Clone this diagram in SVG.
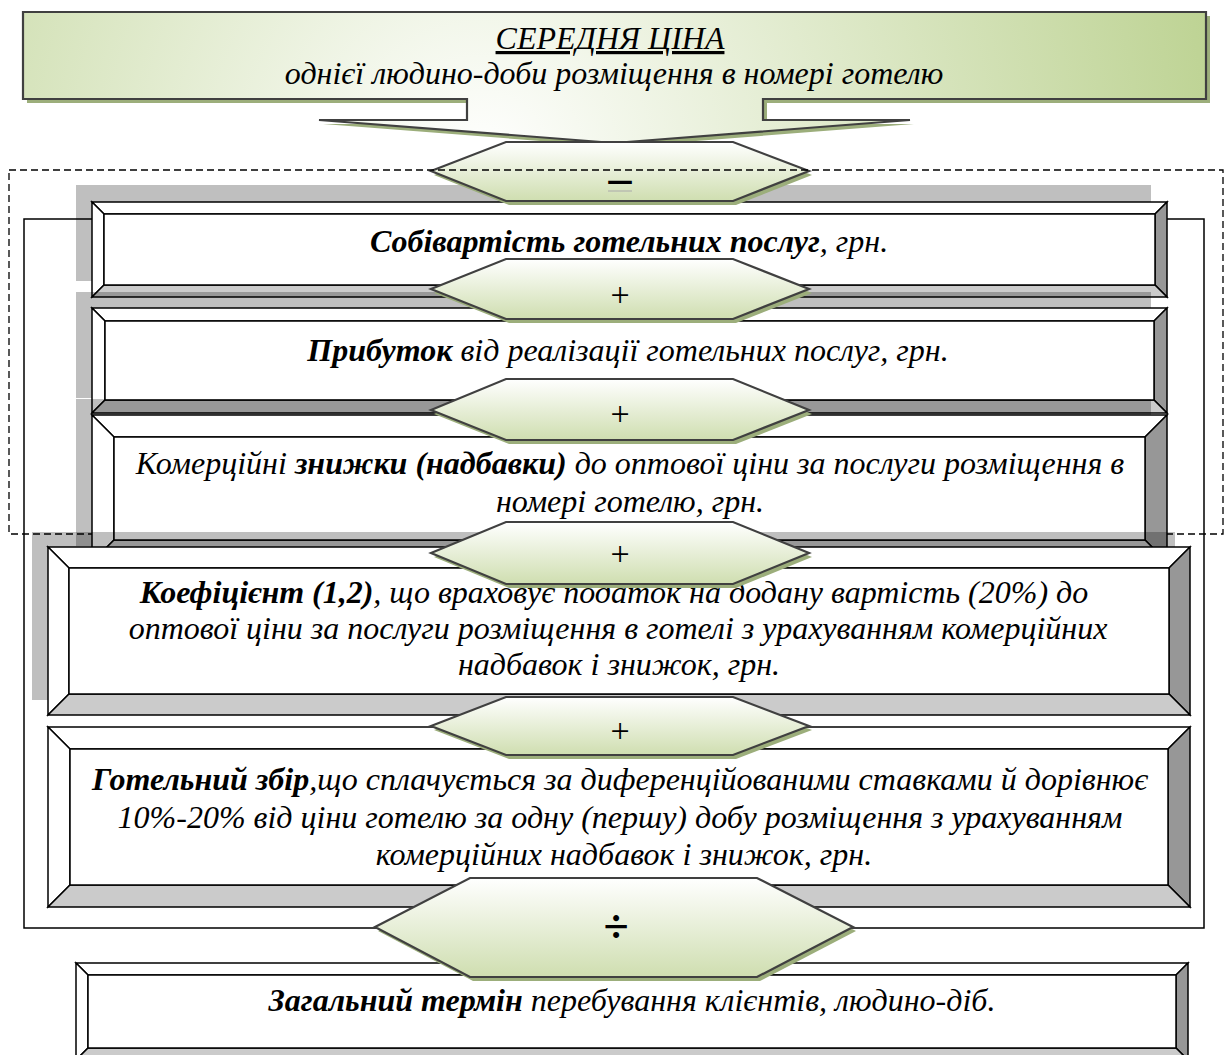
<svg xmlns="http://www.w3.org/2000/svg" width="1225" height="1055" viewBox="0 0 1225 1055">
<defs>
<radialGradient id="gCall" gradientUnits="userSpaceOnUse" cx="480" cy="160" r="760">
<stop offset="0" stop-color="#ffffff"/><stop offset="1" stop-color="#bcd291"/>
</radialGradient>
<linearGradient id="gHex" x1="0" y1="0" x2="0" y2="1">
<stop offset="0" stop-color="#ffffff"/><stop offset="1" stop-color="#cfdeb0"/>
</linearGradient>
<style>
.t{font-family:'Times New Roman',serif;font-style:italic;font-size:32px;fill:#000;text-anchor:middle}
.b{font-weight:bold}
.sh{fill:#000;fill-opacity:0.25}
.bv polygon,.bv rect{stroke:#000;stroke-width:1.5;stroke-linejoin:miter}
.w{fill:#fff}
.dk{fill:#979797}
.lt{fill:#cbcbcb}
.hex{fill:url(#gHex);stroke:#404040;stroke-width:2.2;stroke-linejoin:miter}
.hsh{fill:#9cae7b}
.op{font-family:'Times New Roman',serif;font-size:34px;text-anchor:middle;fill:#000}
</style>
</defs>
<rect width="1225" height="1055" fill="#fff"/>

<g id="title">
<polygon class="hsh" transform="translate(4,4)" points="23,12 1206,12 1206,99 763,99 763,120 910,120 614,143 319,120 467,120 467,99 23,99"/>
<polygon fill="url(#gCall)" stroke="#404040" stroke-width="2.2" points="23,12 1206,12 1206,99 763,99 763,120 910,120 614,143 319,120 467,120 467,99 23,99"/>
<text class="t" x="610" y="49" text-decoration="underline">СЕРЕДНЯ ЦІНА</text>
<text class="t" x="614" y="84">однієї людино-доби розміщення в номері готелю</text>
</g>

<g id="box1" class="bv">
<rect class="sh" x="76" y="185" width="1075" height="96" style="stroke:none"/>
<polygon class="w" points="92,202 1167,202 1155,214 104,214"/>
<polygon class="w" points="92,202 104,214 104,285 92,297"/>
<polygon class="dk" points="1167,202 1167,297 1155,285 1155,214"/>
<polygon class="lt" points="92,297 104,285 1155,285 1167,297"/>
<rect class="w" x="104" y="214" width="1051" height="71"/>
<text class="t" x="629" y="252"><tspan class="b">Собівартість готельних послуг</tspan>, грн.</text>
</g>

<g id="op-minus">
<polygon class="hsh" transform="translate(3,4)" points="431,171 506,142 733,142 809,171 733,201 506,201"/>
<polygon class="hex" points="431,171 506,142 733,142 809,171 733,201 506,201"/>
<text class="op b" x="620" y="193" style="font-size:46px">–</text>
<line x1="608" y1="191" x2="632" y2="191" stroke="#aaa" stroke-width="1"/>
</g>

<g id="connectors" fill="none" stroke="#000">
<rect x="9" y="170" width="1214" height="364" stroke-dasharray="7 4" stroke-width="1.3"/>
<path d="M92,219 H24 V928 H1204 V219 H1167" stroke-width="1.5"/>
</g>

<g id="box2" class="bv">
<rect class="sh" x="76" y="292" width="1075" height="106" style="stroke:none"/>
<polygon class="w" points="92,308 1167,308 1154,321 105,321"/>
<polygon class="w" points="92,308 105,321 105,400 92,413"/>
<polygon class="dk" points="1167,308 1167,413 1154,400 1154,321"/>
<polygon class="lt" points="92,413 105,400 1154,400 1167,413"/>
<rect class="w" x="105" y="321" width="1049" height="79"/>
<text class="t" x="628" y="361"><tspan class="b">Прибуток</tspan> від реалізації готельних послуг, грн.</text>
</g>

<g id="op-plus1">
<polygon class="hsh" transform="translate(3,4)" points="431,289 506,259 733,259 809,289 733,319 506,319"/>
<polygon class="hex" points="431,289 506,259 733,259 809,289 733,319 506,319"/>
<text class="op" x="620" y="306">+</text>
</g>

<g id="box3" class="bv">
<rect class="sh" x="76" y="399" width="1075" height="147" style="stroke:none"/>
<polygon class="w" points="92,415 1167,415 1145,437 114,437"/>
<polygon class="w" points="92,415 114,437 114,540 92,562"/>
<polygon class="dk" points="1167,415 1167,562 1145,540 1145,437"/>
<polygon class="lt" points="92,562 114,540 1145,540 1167,562"/>
<rect class="w" x="114" y="437" width="1031" height="103"/>
<text class="t" x="630" y="474">Комерційні <tspan class="b">знижки (надбавки)</tspan> до оптової ціни за послуги розміщення в</text>
<text class="t" x="630" y="512">номері готелю, грн.</text>
</g>

<g id="op-plus2">
<polygon class="hsh" transform="translate(3,4)" points="431,410 506,379 733,379 809,410 733,440 506,440"/>
<polygon class="hex" points="431,410 506,379 733,379 809,410 733,440 506,440"/>
<text class="op" x="620" y="425">+</text>
</g>

<g id="box4" class="bv">
<rect class="sh" x="32" y="532" width="1143" height="168" style="stroke:none"/>
<polygon class="w" points="48,547 1190,547 1169,568 69,568"/>
<polygon class="w" points="48,547 69,568 69,694 48,715"/>
<polygon class="dk" points="1190,547 1190,715 1169,694 1169,568"/>
<polygon class="lt" points="48,715 69,694 1169,694 1190,715"/>
<rect class="w" x="69" y="568" width="1100" height="126"/>
<text class="t" x="614" y="603"><tspan class="b">Коефіцієнт (1,2)</tspan>, що враховує податок на додану вартість (20%) до</text>
<text class="t" x="618" y="639">оптової ціни за послуги розміщення в готелі з урахуванням комерційних</text>
<text class="t" x="619" y="675">надбавок і знижок, грн.</text>
</g>

<g id="op-plus3">
<polygon class="hsh" transform="translate(3,4)" points="431,553 506,522 733,522 809,553 733,584 506,584"/>
<polygon class="hex" points="431,553 506,522 733,522 809,553 733,584 506,584"/>
<text class="op" x="620" y="565">+</text>
</g>

<g id="box5" class="bv">
<polygon class="w" points="48,727 1190,727 1168,749 70,749"/>
<polygon class="w" points="48,727 70,749 70,885 48,907"/>
<polygon class="dk" points="1190,727 1190,907 1168,885 1168,749"/>
<polygon class="lt" points="48,907 70,885 1168,885 1190,907"/>
<rect class="w" x="70" y="749" width="1098" height="136"/>
<text class="t" x="620" y="790"><tspan class="b">Готельний збір</tspan>,що сплачується за диференційованими ставками й дорівнює</text>
<text class="t" x="620" y="828">10%-20% від ціни готелю за одну (першу) добу розміщення з урахуванням</text>
<text class="t" x="624" y="865">комерційних надбавок і знижок, грн.</text>
</g>

<g id="op-plus4">
<polygon class="hsh" transform="translate(3,4)" points="431,726 506,697 733,697 809,726 733,755 506,755"/>
<polygon class="hex" points="431,726 506,697 733,697 809,726 733,755 506,755"/>
<text class="op" x="620" y="742">+</text>
</g>

<g id="box6" class="bv">
<polygon class="w" points="76,963 1188,963 1176,975 88,975"/>
<polygon class="w" points="76,963 88,975 88,1048 76,1060"/>
<polygon class="dk" points="1188,963 1188,1060 1176,1048 1176,975"/>
<polygon class="lt" points="76,1060 88,1048 1176,1048 1188,1060"/>
<rect class="w" x="88" y="975" width="1088" height="73"/>
<text class="t" x="632" y="1011"><tspan class="b">Загальний термін</tspan> перебування клієнтів, людино-діб.</text>
</g>

<g id="op-divide">
<polygon class="hsh" transform="translate(3,4)" points="375,927 470,878 757,878 853,927 757,977 470,977"/>
<polygon class="hex" points="375,927 470,878 757,878 853,927 757,977 470,977"/>
<text class="op b" x="616" y="942" style="font-size:46px">÷</text>
</g>
</svg>
